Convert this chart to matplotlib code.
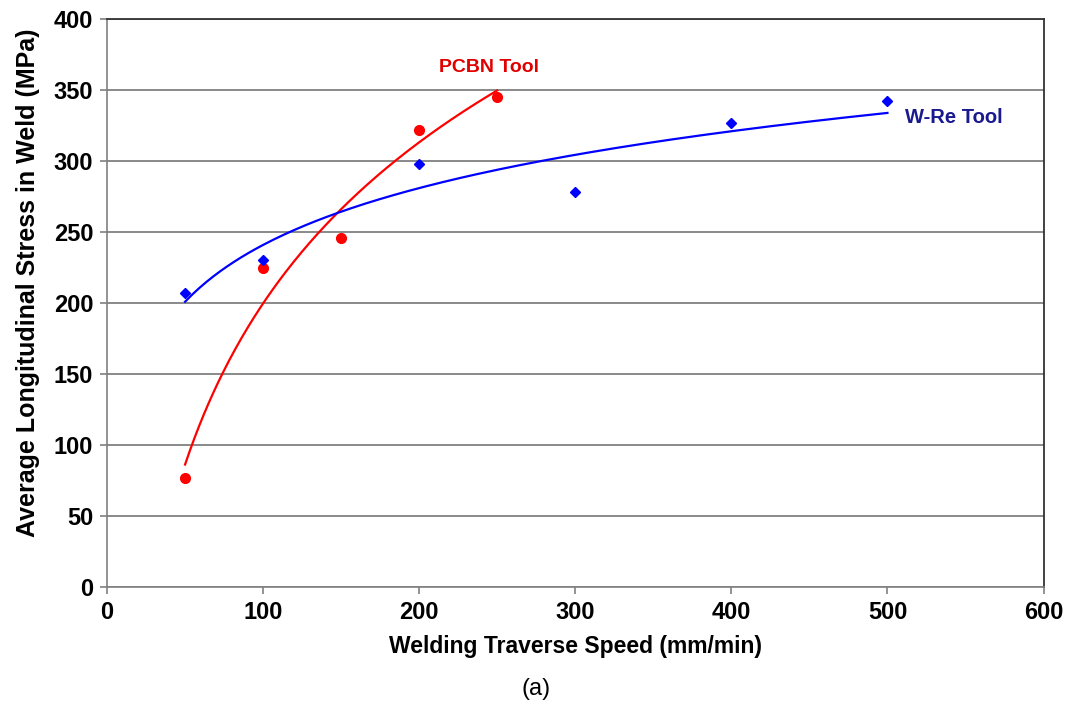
import numpy as np
import matplotlib
matplotlib.use("Agg")
import matplotlib.pyplot as plt
from matplotlib import font_manager

# measured residual stress vs traverse speed
speed_pcbn = [50, 100, 150, 200, 250]
stress_pcbn = [77, 225, 246, 322, 345]
speed_wre = [50, 100, 200, 300, 400, 500]
stress_wre = [207, 230, 298, 278, 327, 342]

yticks = [0, 50, 100, 150, 200, 250, 300, 350, 400]
xticks = [0, 100, 200, 300, 400, 500, 600]

names = {f.name for f in font_manager.fontManager.ttflist}
narrow = "Liberation Sans Narrow" if "Liberation Sans Narrow" in names else "Liberation Sans"
plt.rcParams['font.family'] = ['Liberation Sans', 'DejaVu Sans']


def log_trend(x, y):
    # excel-style logarithmic trendline: y = a*ln(x) + b
    a, b = np.polyfit(np.log(x), y, 1)
    xs = np.linspace(min(x), max(x), 200)
    return xs, a * np.log(xs) + b


fig = plt.figure(figsize=(10.67, 7.06), dpi=100)
ax = fig.add_axes([0.1003, 0.1686, 0.8777, 0.8044])

xs, ys = log_trend(speed_pcbn, stress_pcbn)
ax.plot(xs, ys, color="#ff0000", lw=1.6, zorder=3)
xs, ys = log_trend(speed_wre, stress_wre)
ax.plot(xs, ys, color="#0000ff", lw=1.6, zorder=3)

ax.plot(speed_pcbn, stress_pcbn, "o", color="#ff0000", ms=7, zorder=4)
ax.plot(speed_wre, stress_wre, "D", color="#0000ff", ms=5, zorder=4)

ax.set_xlim(0, 600)
ax.set_ylim(0, 400)
ax.set_xticks(xticks)
ax.set_yticks(yticks)
ax.yaxis.grid(True, color="#808080", lw=1.3)
ax.set_axisbelow(True)

for s in ["left", "bottom"]:
    ax.spines[s].set_color("#808080")
    ax.spines[s].set_linewidth(1.2)
for s in ["top", "right"]:
    ax.spines[s].set_color("#333333")
    ax.spines[s].set_linewidth(1.3)

ax.tick_params(axis="both", color="#808080", length=5, width=1.2, pad=5)
for lab in ax.get_xticklabels() + ax.get_yticklabels():
    lab.set_fontfamily(narrow)
    lab.set_fontweight("bold")
    lab.set_fontsize(17)

ax.set_xlabel("Welding Traverse Speed (mm/min)", fontsize=16.5, fontweight="bold",
              family=narrow, labelpad=8)
ax.set_ylabel("Average Longitudinal Stress in Weld (MPa)", fontsize=18,
              fontweight="bold")
ax.yaxis.set_label_coords(-0.072, 0.535)

ax.text(245, 366, "PCBN Tool", color="#e00000", fontsize=14, fontweight="bold",
        family=narrow, ha="center", va="center")
ax.text(511, 331, "W-Re Tool", color="#1a1a90", fontsize=14.5, fontweight="bold",
        family=narrow, ha="left", va="center")

fig.text(0.502, 0.008, "(a)", fontsize=17, family=narrow, ha="center", va="bottom")

fig.savefig("out.png", dpi=100)
